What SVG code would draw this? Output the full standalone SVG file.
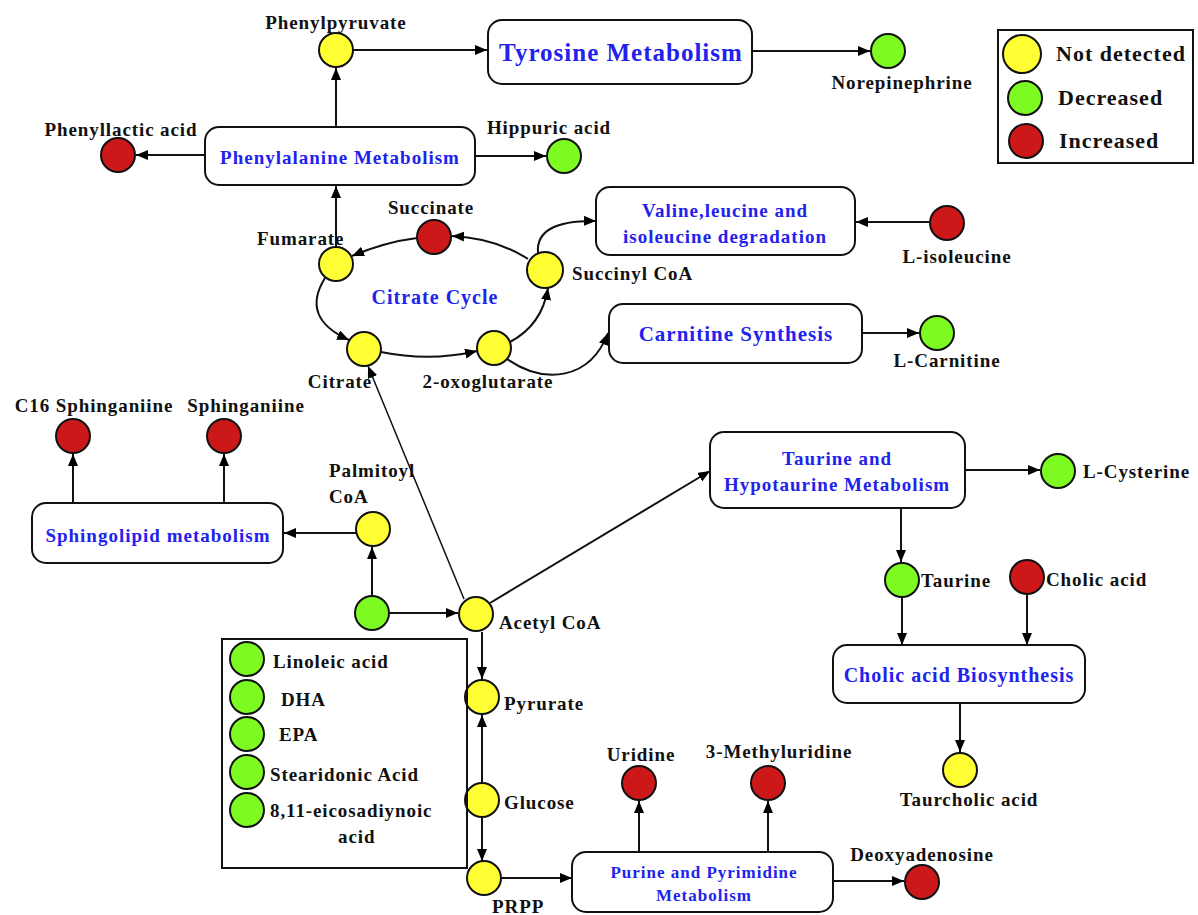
<svg xmlns="http://www.w3.org/2000/svg" width="1198" height="915" viewBox="0 0 1198 915">
<defs>
<marker id="a" markerWidth="12" markerHeight="10" refX="12" refY="5" orient="auto" markerUnits="userSpaceOnUse"><path d="M0,0 L12,5 L0,10 z" fill="#000"/></marker>
</defs>
<style>
.lbl{font-family:"Liberation Serif","Times New Roman",serif;font-weight:bold;font-size:19px;letter-spacing:0.9px;fill:#111}
.bx{fill:#fff;stroke:#111;stroke-width:2}
.bt{font-family:"Liberation Serif","Times New Roman",serif;font-weight:bold;fill:#2222ee;text-anchor:middle;letter-spacing:1px}
.y{fill:#ffff33;stroke:#111;stroke-width:2}
.g{fill:#7dfa22;stroke:#111;stroke-width:2}
.r{fill:#cc1818;stroke:#111;stroke-width:2}
.c{fill:none;stroke:#111;stroke-width:2}
.t{fill:none;stroke:#111;stroke-width:1.5}
.m{text-anchor:middle}
.leg{font-family:"Liberation Serif","Times New Roman",serif;font-weight:bold;font-size:22px;letter-spacing:1px;fill:#111}
</style>
<rect width="1198" height="915" fill="#fff"/>

<g id="connectors">
<path class="c" d="M353 50 H487" marker-end="url(#a)"/>
<path class="c" d="M752 51 H870" marker-end="url(#a)"/>
<path class="c" d="M336 127 V68" marker-end="url(#a)"/>
<path class="c" d="M205 155 H136" marker-end="url(#a)"/>
<path class="c" d="M475 156 H546" marker-end="url(#a)"/>
<path class="c" d="M336 247 V186" marker-end="url(#a)"/>
<path class="c" d="M528 259 Q495 238 452 236" marker-end="url(#a)"/>
<path class="c" d="M417 238 Q385 242 352 256" marker-end="url(#a)"/>
<path class="c" d="M325 278 Q300 318 349 340" marker-end="url(#a)"/>
<path class="c" d="M381 352 Q430 362 477 351" marker-end="url(#a)"/>
<path class="c" d="M510 342 Q542 325 548 288" marker-end="url(#a)"/>
<path class="c" d="M538 253 Q535 220 596 221" marker-end="url(#a)"/>
<path class="c" d="M507 359 C545 385 590 380 608 333" marker-end="url(#a)"/>
<path class="c" d="M929 222 H856" marker-end="url(#a)"/>
<path class="c" d="M862 333 H919" marker-end="url(#a)"/>
<path class="c" d="M73 503 V454" marker-end="url(#a)"/>
<path class="c" d="M224 503 V454" marker-end="url(#a)"/>
<path class="c" d="M356 533 H284" marker-end="url(#a)"/>
<path class="c" d="M372 596 V547" marker-end="url(#a)"/>
<path class="c" d="M389 613 H458" marker-end="url(#a)"/>
<path class="t" d="M464 599 L368 366" marker-end="url(#a)"/>
<path class="c" d="M490 603 L710 471" marker-end="url(#a)"/>
<path class="c" d="M482 632 V679" marker-end="url(#a)"/>
<path class="c" d="M482 783 V715" marker-end="url(#a)"/>
<path class="c" d="M482 817 V861" marker-end="url(#a)"/>
<path class="c" d="M501 878 H572" marker-end="url(#a)"/>
<path class="c" d="M639 852 V801" marker-end="url(#a)"/>
<path class="c" d="M768 852 V801" marker-end="url(#a)"/>
<path class="c" d="M833 881 H904" marker-end="url(#a)"/>
<path class="c" d="M965 470 H1040" marker-end="url(#a)"/>
<path class="c" d="M901 508 V562" marker-end="url(#a)"/>
<path class="c" d="M902 597 V645" marker-end="url(#a)"/>
<path class="c" d="M1027 594 V645" marker-end="url(#a)"/>
<path class="c" d="M960 703 V752" marker-end="url(#a)"/>
</g>

<g id="tyrosine"><rect class="bx" x="488" y="20" width="264" height="64" rx="14"/><text class="bt" x="621" y="61" font-size="25">Tyrosine Metabolism</text></g>
<g id="phenylalanine"><rect class="bx" x="205" y="127" width="270" height="58" rx="14"/><text class="bt" x="340" y="164" font-size="19">Phenylalanine Metabolism</text></g>
<g id="valine"><rect class="bx" x="596" y="187" width="259" height="68" rx="14"/><text class="bt" x="725" y="217" font-size="19">Valine,leucine and</text><text class="bt" x="725" y="243" font-size="19">isoleucine degradation</text></g>
<g id="carnitine-synthesis"><rect class="bx" x="609" y="304" width="253" height="59" rx="14"/><text class="bt" x="736" y="341" font-size="21">Carnitine Synthesis</text></g>
<g id="sphingolipid"><rect class="bx" x="32" y="503" width="251" height="60" rx="14"/><text class="bt" x="158" y="542" font-size="19">Sphingolipid metabolism</text></g>
<g id="taurine-box"><rect class="bx" x="710" y="432" width="255" height="76" rx="14"/><text class="bt" x="837" y="465" font-size="19">Taurine and</text><text class="bt" x="837" y="491" font-size="19">Hypotaurine Metabolism</text></g>
<g id="cholic-box"><rect class="bx" x="833" y="645" width="252" height="58" rx="14"/><text class="bt" x="959" y="682" font-size="20">Cholic acid Biosynthesis</text></g>
<g id="purine"><rect class="bx" x="572" y="852" width="261" height="60" rx="14"/><text class="bt" x="704" y="878" font-size="17">Purine and Pyrimidine</text><text class="bt" x="704" y="901" font-size="17">Metabolism</text></g>
<g id="citrate-cycle"><text class="bt" x="435" y="304" font-size="20">Citrate Cycle</text></g>

<g id="phenylpyruvate"><circle class="y" cx="336" cy="50" r="17"/><text class="lbl m" x="336" y="29">Phenylpyruvate</text></g>
<g id="norepinephrine"><circle class="g" cx="888" cy="51" r="17"/><text class="lbl m" x="902" y="89">Norepinephrine</text></g>
<g id="phenyllactic"><circle class="r" cx="118" cy="155" r="17"/><text class="lbl m" x="121" y="136">Phenyllactic acid</text></g>
<g id="hippuric"><circle class="g" cx="564" cy="156" r="17"/><text class="lbl m" x="549" y="134">Hippuric acid</text></g>
<g id="fumarate"><circle class="y" cx="336" cy="264" r="17"/><text class="lbl" x="257" y="245">Fumarate</text></g>
<g id="succinate"><circle class="r" cx="434" cy="237" r="17"/><text class="lbl m" x="431" y="214">Succinate</text></g>
<g id="succinyl"><circle class="y" cx="545" cy="270" r="18"/><text class="lbl" x="572" y="280">Succinyl CoA</text></g>
<g id="oxoglutarate"><circle class="y" cx="494" cy="348" r="17"/><text class="lbl m" x="488" y="388">2-oxoglutarate</text></g>
<g id="citrate"><circle class="y" cx="364" cy="349" r="17"/><text class="lbl m" x="340" y="388">Citrate</text></g>
<g id="isoleucine"><circle class="r" cx="947" cy="223" r="17"/><text class="lbl m" x="957" y="263">L-isoleucine</text></g>
<g id="carnitine"><circle class="g" cx="937" cy="333" r="17"/><text class="lbl m" x="947" y="367">L-Carnitine</text></g>
<g id="c16"><circle class="r" cx="73" cy="436" r="17"/><text class="lbl m" x="94" y="412">C16 Sphinganiine</text></g>
<g id="sphinganiine"><circle class="r" cx="224" cy="436" r="17"/><text class="lbl m" x="246" y="412">Sphinganiine</text></g>
<g id="palmitoyl"><circle class="y" cx="373" cy="529" r="17"/><text class="lbl" x="329" y="477">Palmitoyl</text><text class="lbl" x="329" y="503">CoA</text></g>
<g id="fatty"><circle class="g" cx="372" cy="613" r="17"/></g>
<g id="acetyl"><circle class="y" cx="476" cy="614" r="17"/><text class="lbl" x="499" y="629">Acetyl CoA</text></g>
<g id="pyrurate"><circle class="y" cx="482" cy="697" r="17"/><text class="lbl" x="504" y="710">Pyrurate</text></g>
<g id="glucose"><circle class="y" cx="482" cy="800" r="17"/><text class="lbl" x="504" y="809">Glucose</text></g>
<g id="prpp"><circle class="y" cx="484" cy="878" r="17"/><text class="lbl" x="492" y="913">PRPP</text></g>
<g id="uridine"><circle class="r" cx="639" cy="783" r="17"/><text class="lbl m" x="641" y="761">Uridine</text></g>
<g id="methyluridine"><circle class="r" cx="768" cy="783" r="17"/><text class="lbl m" x="779" y="758">3-Methyluridine</text></g>
<g id="deoxyadenosine"><circle class="r" cx="922" cy="882" r="17"/><text class="lbl m" x="922" y="861">Deoxyadenosine</text></g>
<g id="cysteine"><circle class="g" cx="1058" cy="471" r="17"/><text class="lbl" x="1083" y="478">L-Cysterine</text></g>
<g id="taurine"><circle class="g" cx="902" cy="580" r="17"/><text class="lbl" x="921" y="587">Taurine</text></g>
<g id="cholic"><circle class="r" cx="1027" cy="577" r="17"/><text class="lbl" x="1046" y="586">Cholic acid</text></g>
<g id="taurcholic"><circle class="y" cx="960" cy="770" r="17"/><text class="lbl m" x="969" y="806">Taurcholic acid</text></g>

<g id="fatty-acids">
<rect x="222" y="639" width="245" height="229" fill="none" stroke="#111" stroke-width="2"/>
<circle class="g" cx="247" cy="659" r="17"/><text class="lbl" x="273" y="668">Linoleic acid</text>
<circle class="g" cx="247" cy="697" r="17"/><text class="lbl" x="281" y="706">DHA</text>
<circle class="g" cx="247" cy="734" r="17"/><text class="lbl" x="279" y="741">EPA</text>
<circle class="g" cx="247" cy="772" r="17"/><text class="lbl" x="270" y="781">Stearidonic Acid</text>
<circle class="g" cx="247" cy="810" r="17"/><text class="lbl" x="270" y="817">8,11-eicosadiynoic</text><text class="lbl" x="338" y="843">acid</text>
</g>

<g id="legend">
<rect x="998" y="30" width="195" height="133" fill="#fff" stroke="#111" stroke-width="2"/>
<circle class="y" cx="1022" cy="54" r="19"/><text class="leg" x="1056" y="61">Not detected</text>
<circle class="g" cx="1025" cy="98" r="17"/><text class="leg" x="1058" y="105">Decreased</text>
<circle class="r" cx="1026" cy="141" r="17"/><text class="leg" x="1059" y="148">Increased</text>
</g>
</svg>
